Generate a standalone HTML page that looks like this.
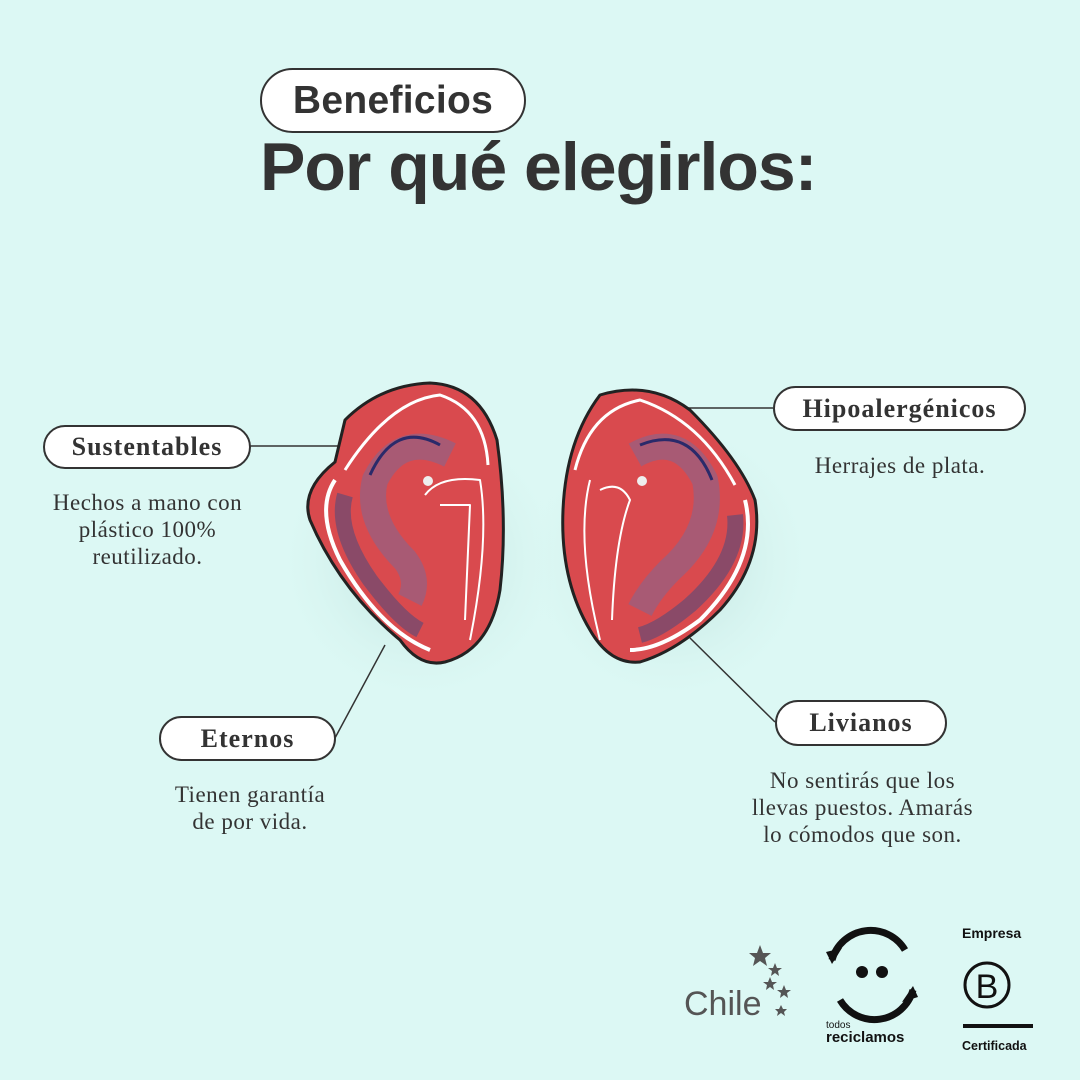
<!DOCTYPE html>
<html><head><meta charset="utf-8"><style>
html,body{margin:0;padding:0}
body{width:1080px;height:1080px;background:#dcf8f4;position:relative;overflow:hidden;font-family:"Liberation Sans",sans-serif;color:#333}
.pill{position:absolute;border:2px solid #333;border-radius:30px;background:#fff;box-sizing:border-box;display:flex;align-items:center;justify-content:center;font-family:"Liberation Serif",serif;font-weight:bold;font-size:26px;letter-spacing:1px;color:#333}
.txt{position:absolute;font-family:"Liberation Serif",serif;font-size:23px;letter-spacing:0.5px;line-height:27px;text-align:center;color:#333}
</style></head><body>
<div class="pill" style="left:260px;top:68px;width:266px;height:65px;border-radius:33px;font-family:'Liberation Sans',sans-serif;font-size:39px;letter-spacing:0.3px">Beneficios</div>
<div style="position:absolute;left:260px;top:128px;font-size:68px;font-weight:bold;color:#333;letter-spacing:-1px">Por qué elegirlos:</div>

<svg width="1080" height="1080" style="position:absolute;left:0;top:0">
<defs><radialGradient id="sh"><stop offset="0" stop-color="#b8ddd8"/><stop offset="1" stop-color="#dcf8f4" stop-opacity="0"/></radialGradient></defs>
<ellipse cx="420" cy="560" rx="150" ry="150" fill="url(#sh)"/>
<ellipse cx="670" cy="560" rx="150" ry="150" fill="url(#sh)"/>
<g stroke="#333" stroke-width="1.5" fill="none">
<line x1="250" y1="446" x2="345" y2="446"/>
<line x1="335" y1="738" x2="385" y2="645"/>
<line x1="685" y1="408" x2="773" y2="408"/>
<line x1="690" y1="638" x2="775" y2="722"/>
</g>
<g stroke-linejoin="round">
<path d="M345,420 Q380,385 430,383 Q480,385 497,440 Q508,520 500,590 Q490,650 445,662 Q420,668 400,640 Q340,590 310,520 Q300,490 335,462 Z" fill="#d94a4e" stroke="#222" stroke-width="3"/>
<path d="M345,470 Q390,400 440,395 Q485,410 488,465" fill="none" stroke="#fff" stroke-width="3"/>
<path d="M335,480 Q315,510 340,560 Q380,630 430,650" fill="none" stroke="#fff" stroke-width="4"/>
<path d="M345,495 Q335,530 370,580 Q400,620 420,630" fill="none" stroke="#8a4a68" stroke-width="16"/>
<path d="M450,455 Q400,430 375,480 Q365,520 405,560 Q420,580 410,600" fill="none" stroke="#a85a74" stroke-width="26"/>
<path d="M440,445 Q395,420 370,475" fill="none" stroke="#2a2a6a" stroke-width="3"/>
<path d="M425,495 Q440,475 480,480 Q490,540 470,640" fill="none" stroke="#fff" stroke-width="2"/>
<path d="M440,505 L470,505 L465,620" fill="none" stroke="#fff" stroke-width="2"/>
<circle cx="428" cy="481" r="5" fill="#eee"/>
</g>
<g stroke-linejoin="round">
<path d="M600,395 Q650,380 690,410 Q740,460 755,500 Q765,560 720,610 Q680,650 640,662 Q610,665 590,630 Q560,580 563,510 Q566,440 600,395 Z" fill="#d94a4e" stroke="#222" stroke-width="3"/>
<path d="M575,470 Q590,410 640,400 Q700,420 735,485" fill="none" stroke="#fff" stroke-width="3"/>
<path d="M745,500 Q760,560 700,620 Q660,650 630,650" fill="none" stroke="#fff" stroke-width="4"/>
<path d="M735,515 Q740,560 690,605 Q660,630 640,635" fill="none" stroke="#8a4a68" stroke-width="16"/>
<path d="M635,455 Q680,430 705,480 Q715,530 670,570 Q650,590 640,610" fill="none" stroke="#a85a74" stroke-width="26"/>
<path d="M640,445 Q690,425 712,480" fill="none" stroke="#2a2a6a" stroke-width="3"/>
<path d="M590,480 Q575,540 600,640" fill="none" stroke="#fff" stroke-width="2"/>
<path d="M600,490 Q620,480 630,500 Q615,540 612,620" fill="none" stroke="#fff" stroke-width="2"/>
<circle cx="642" cy="481" r="5" fill="#eee"/>
</g>
<g fill="#555">
<text x="684" y="1015" font-family="Liberation Sans,sans-serif" font-size="34" fill="#555">Chile</text>
<polygon points="760,945 763,953 771,953 765,958 767,966 760,961 753,966 755,958 749,953 757,953"/>
<polygon points="775,963 777,968 782,968 778,971 779,976 775,973 771,976 772,971 768,968 773,968"/>
<polygon points="770,977 772,982 777,982 773,985 774,990 770,987 766,990 767,985 763,982 768,982"/>
<polygon points="784,985 786,990 791,990 787,993 788,998 784,995 780,998 781,993 777,990 782,990"/>
<polygon points="781,1005 783,1009 787,1009 784,1012 785,1016 781,1013 777,1016 778,1012 775,1009 779,1009"/>
</g>
<g fill="none" stroke="#111" stroke-width="7">
<path d="M832,960 A40,40 0 0 1 905,950"/>
<path d="M913,990 A40,40 0 0 1 840,1000"/>
</g>
<polygon points="826,952 842,948 832,964" fill="#111"/>
<polygon points="918,997 902,1002 913,986" fill="#111"/>
<circle cx="862" cy="972" r="6" fill="#111"/><circle cx="882" cy="972" r="6" fill="#111"/>
<text x="826" y="1028" font-family="Liberation Sans,sans-serif" font-size="10" fill="#111">todos</text>
<text x="826" y="1042" font-family="Liberation Sans,sans-serif" font-size="15" font-weight="bold" fill="#111">reciclamos</text>
<text x="962" y="938" font-family="Liberation Sans,sans-serif" font-size="14" font-weight="bold" fill="#111">Empresa</text>
<circle cx="987" cy="985" r="22" fill="none" stroke="#111" stroke-width="3"/>
<text x="987" y="998" text-anchor="middle" font-family="Liberation Sans,sans-serif" font-size="34" fill="#111">B</text>
<rect x="963" y="1024" width="70" height="4" fill="#111"/>
<text x="962" y="1050" font-family="Liberation Sans,sans-serif" font-size="12.5" font-weight="bold" fill="#111">Certificada</text>
</svg>

<div class="pill" style="left:43px;top:425px;width:208px;height:44px;">Sustentables</div>
<div class="txt" style="left:10px;top:489px;width:275px;">Hechos a mano con<br>plástico 100%<br>reutilizado.</div>
<div class="pill" style="left:159px;top:716px;width:177px;height:45px;">Eternos</div>
<div class="txt" style="left:115px;top:781px;width:270px;">Tienen garantía<br>de por vida.</div>
<div class="pill" style="left:773px;top:386px;width:253px;height:45px;">Hipoalergénicos</div>
<div class="txt" style="left:765px;top:452px;width:270px;">Herrajes de plata.</div>
<div class="pill" style="left:775px;top:700px;width:172px;height:46px;">Livianos</div>
<div class="txt" style="left:715px;top:767px;width:295px;">No sentirás que los<br>llevas puestos. Amarás<br>lo cómodos que son.</div>
</body></html>
